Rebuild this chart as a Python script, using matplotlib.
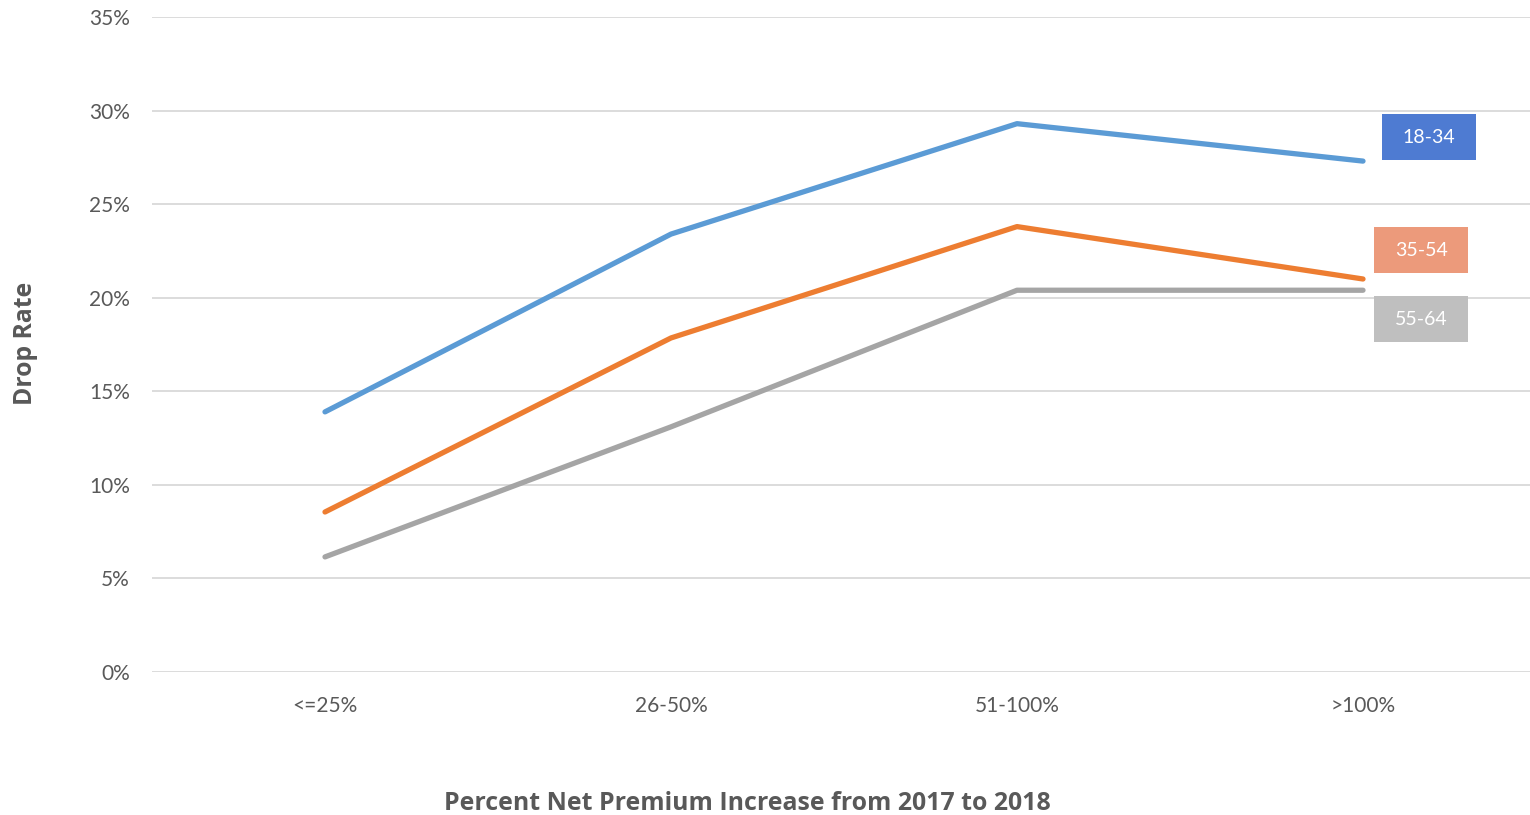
import matplotlib.pyplot as plt
from matplotlib.patches import Rectangle
from matplotlib.ticker import PercentFormatter
from matplotlib.transforms import Affine2D, ScaledTranslation

# drop rate by size of net premium increase, per age group
categories = ["<=25%", "26-50%", "51-100%", ">100%"]
ages = ["18-34", "35-54", "55-64"]
rate_18_34 = [13.9, 23.4, 29.3, 27.3]
rate_35_54 = [8.55, 17.85, 23.8, 21.0]
rate_55_64 = [6.15, 13.1, 20.4, 20.4]

line_colors = ["#5b9bd5", "#ed7d31", "#a5a5a5"]
box_colors = ["#4e7bd2", "#ec9a7b", "#bfbfbf"]
box_offsets = [(66, 24), (58, 29), (58, -29)]  # pixels from the last point
box_w, box_h = 94, 46

plt.rcParams['font.family'] = ['Lato', 'DejaVu Sans']
text_gray = "#595959"

fig = plt.figure(figsize=(15.3, 8.15), dpi=100)
ax = fig.add_axes([152 / 1530, 143 / 815, 1384 / 1530, 655 / 815])

x = range(len(categories))
series = [rate_18_34, rate_35_54, rate_55_64]
for vals, col in zip(series, line_colors):
    ax.plot(x, vals, color=col, lw=3.8, solid_capstyle='round',
            solid_joinstyle='round', zorder=3)

# labels in boxes, placed in pixels beside the last point of each line
last = len(categories) - 1
for name, vals, bc, (dx, dy) in zip(ages, series, box_colors, box_offsets):
    anchor = Affine2D() + ScaledTranslation(last, vals[-1], ax.transData)
    ax.add_patch(Rectangle((dx - box_w / 2, dy - box_h / 2), box_w, box_h,
                           transform=anchor, fc=bc, ec='none',
                           clip_on=False, zorder=4))
    ax.text(dx, dy, name, transform=anchor, ha='center', va='center',
            fontsize=14, color='white', zorder=5)

ax.set_xlim(-0.5, len(categories) - 0.5)
ax.set_ylim(0, 35)
ax.set_yticks(range(0, 36, 5))
ax.yaxis.set_major_formatter(PercentFormatter(decimals=0))
ax.set_xticks(list(x))
ax.set_xticklabels(categories)
ax.grid(axis='y', color='#d9d9d9', lw=1.3)
ax.set_axisbelow(True)
for s in ax.spines.values():
    s.set_visible(False)
ax.tick_params(length=0, labelsize=15, labelcolor=text_gray)
ax.tick_params(axis='y', pad=16)
ax.tick_params(axis='x', pad=17)

fig.text(25 / 1530, 1 - 343 / 815, "Drop Rate", rotation=90, ha='center',
         va='center', fontsize=17.8, fontweight='bold', color=text_gray,
         family=['Open Sans', 'DejaVu Sans'])
fig.text(747 / 1530, 1 - 803 / 815, "Percent Net Premium Increase from 2017 to 2018",
         ha='center', va='center', fontsize=17.9, fontweight='bold', color=text_gray,
         family=['Open Sans', 'DejaVu Sans'])

fig.savefig('out.png', dpi=100)
